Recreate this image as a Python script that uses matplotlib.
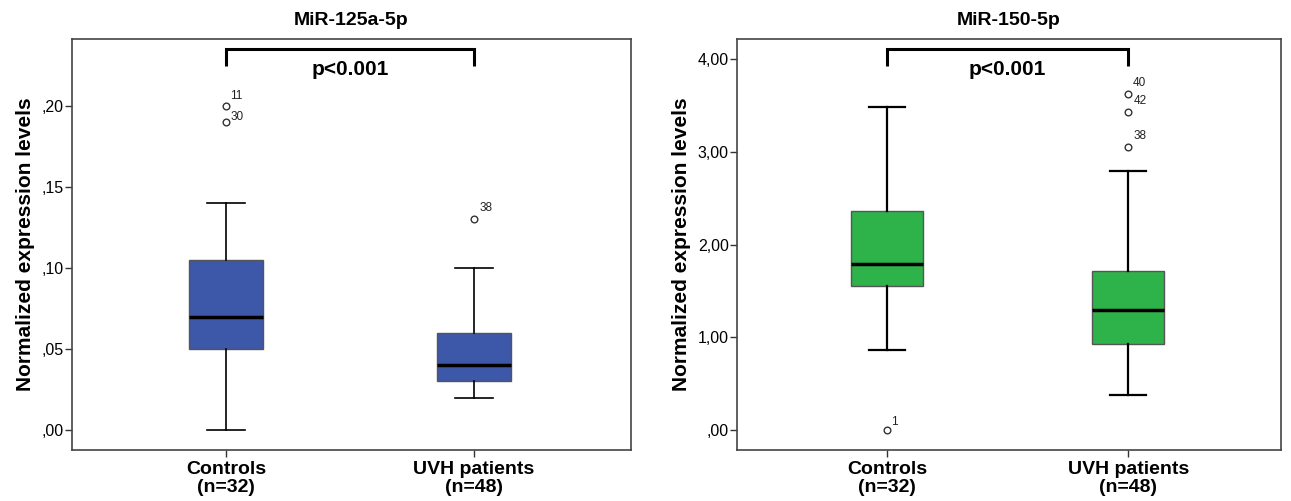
import matplotlib
matplotlib.use("Agg")
import matplotlib.pyplot as plt
from matplotlib.ticker import FuncFormatter

plt.rcParams['font.family'] = ['Liberation Sans Narrow', 'Liberation Sans', 'DejaVu Sans']

categories = ["Controls\n(n=32)", "UVH patients\n(n=48)"]

# MiR-125a-5p
t1 = "MiR-125a-5p"
wlo1 = [0.00, 0.02]
q1_1 = [0.05, 0.03]
med1 = [0.07, 0.04]
q3_1 = [0.105, 0.06]
whi1 = [0.14, 0.10]
out1 = [[0.20, 0.19], [0.13]]
outlab1 = [["11", "30"], ["38"]]
ticks1 = [0.00, 0.05, 0.10, 0.15, 0.20]

# MiR-150-5p
t2 = "MiR-150-5p"
wlo2 = [0.86, 0.38]
q1_2 = [1.55, 0.93]
med2 = [1.79, 1.29]
q3_2 = [2.36, 1.71]
whi2 = [3.48, 2.79]
out2 = [[0.00], [3.62, 3.43, 3.05]]
outlab2 = [["1"], ["40", "42", "38"]]
ticks2 = [0.0, 1.0, 2.0, 3.0, 4.0]

pval = "p<0.001"

fig = plt.figure(figsize=(12.91, 5.01), dpi=100)
W, H = 1291, 501


def fmt(v, pos):
    s = f"{v:.2f}".replace('.', ',')
    if s.startswith('0,'):
        s = s[1:]
    return s


def panel(rect, title, wlo, q1, med, q3, whi, outs, labs, ticks, ylim, color,
          brk_top, brk_tip, lab_offsets, wlw):
    ax = fig.add_axes([rect[0] / W, (H - rect[3]) / H, (rect[2] - rect[0]) / W, (rect[3] - rect[1]) / H])
    stats = []
    for i in range(2):
        stats.append(dict(med=med[i], q1=q1[i], q3=q3[i], whislo=wlo[i], whishi=whi[i], fliers=outs[i]))
    ax.bxp(stats, positions=[1, 2], widths=0.30, patch_artist=True, showfliers=True,
           boxprops=dict(facecolor=color, edgecolor='#555555', linewidth=1.0),
           medianprops=dict(color='black', linewidth=2.5),
           whiskerprops=dict(color='black', linewidth=wlw),
           capprops=dict(color='black', linewidth=wlw),
           capwidths=0.15,
           flierprops=dict(marker='o', markerfacecolor='white', markeredgecolor='#333333',
                           markersize=4.8, markeredgewidth=1.0))
    for i in range(2):
        for v, lb, off in zip(outs[i], labs[i], lab_offsets[i]):
            ax.annotate(lb, (i + 1, v), xytext=(3 + off[0], off[1]), textcoords='offset points',
                        fontsize=8.5, color='#222222', ha='left', va='center')
    ax.set_xlim(0.379, 2.633)
    ax.set_ylim(*ylim)
    ax.set_yticks(ticks)
    ax.yaxis.set_major_formatter(FuncFormatter(fmt))
    ax.set_xticks([1, 2])
    ax.set_xticklabels(categories, fontweight='bold', fontsize=14, linespacing=1.05)
    ax.tick_params(axis='both', direction='out', length=5, width=1.0, color='#333333')
    ax.tick_params(axis='y', labelsize=11.5, pad=1)
    ax.tick_params(axis='x', pad=3)
    for s in ax.spines.values():
        s.set_color('#444444')
        s.set_linewidth(1.2)
    ax.set_ylabel("Normalized expression levels", fontweight='bold', fontsize=15, labelpad=5)
    ax.set_title(title, fontweight='bold', fontsize=14, pad=10)
    ax.plot([1, 1, 2, 2], [brk_tip, brk_top, brk_top, brk_tip], color='black', linewidth=2.2,
            solid_capstyle='butt', solid_joinstyle='miter')
    ax.text(1.5, brk_top - (ylim[1] - ylim[0]) * 0.026, pval, ha='center', va='top',
            fontsize=15, fontweight='bold')
    return ax


panel((72, 39, 631, 450), t1, wlo1, q1_1, med1, q3_1, whi1, out1, outlab1, ticks1,
      (-0.0123, 0.2414), '#3D57A9', 0.2352, 0.2247,
      [[(0, 7), (0, 4)], [(1, 8)]], 1.2)
panel((737, 39, 1281, 450), t2, wlo2, q1_2, med2, q3_2, whi2, out2, outlab2, ticks2,
      (-0.2156, 4.216), '#2EB34A', 4.108, 3.924,
      [[(0, 6)], [(0, 8), (1, 8), (1, 8)]], 1.6)

fig.savefig("out.png", dpi=100)
